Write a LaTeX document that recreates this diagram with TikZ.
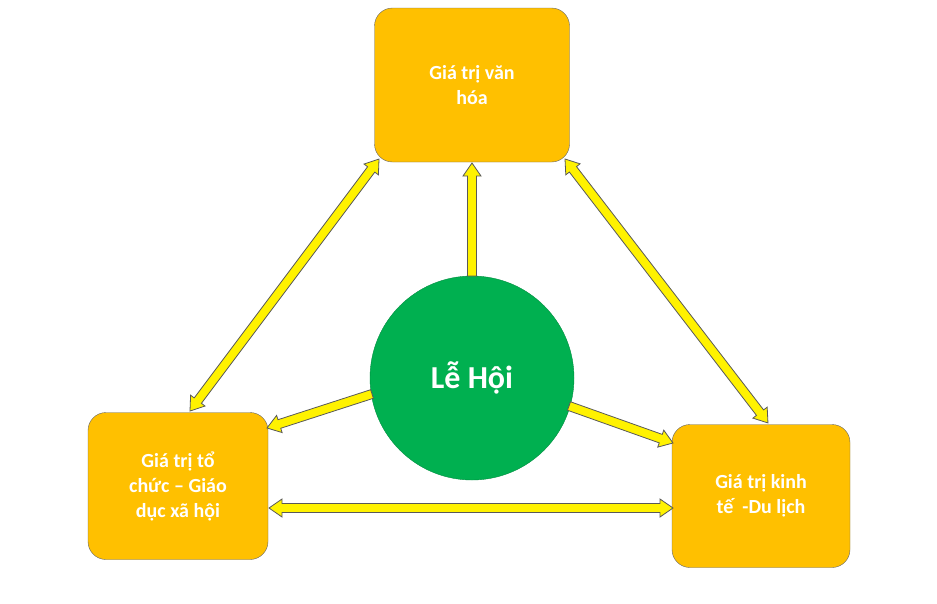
\documentclass[tikz,border=0pt]{standalone}
\usepackage{fontspec}
\setmainfont{Carlito}
\makeatletter
\newdimen\bax \newdimen\bay \newdimen\bbx \newdimen\bby
\newcommand\barrow[3]{%
\pgfextractx{\bax}{\pgfpointanchor{#1}{center}}\pgfextracty{\bay}{\pgfpointanchor{#1}{center}}%
\pgfextractx{\bbx}{\pgfpointanchor{#2}{center}}\pgfextracty{\bby}{\pgfpointanchor{#2}{center}}%
\pgfmathsetmacro\bdx{\bbx-\bax}\pgfmathsetmacro\bdy{\bby-\bay}%
\pgfmathsetmacro\bL{veclen(\bdx,\bdy)}\pgfmathsetmacro\bA{atan2(\bdy,\bdx)}%
\pgfmathsetmacro\bM{\bL-13}%
\begin{scope}[shift={(#1)},rotate=\bA]
\ifnum#3=1
\draw[barrowsty] (0pt,0pt) -- (13pt,9pt) -- (13pt,4.5pt) -- (\bM pt,4.5pt) -- (\bM pt,9pt) -- (\bL pt,0pt) -- (\bM pt,-9pt) -- (\bM pt,-4.5pt) -- (13pt,-4.5pt) -- (13pt,-9pt) -- cycle;
\else
\draw[barrowsty] (0pt,-4.5pt) -- (\bM pt,-4.5pt) -- (\bM pt,-9pt) -- (\bL pt,0pt) -- (\bM pt,9pt) -- (\bM pt,4.5pt) -- (0pt,4.5pt) -- cycle;
\fi
\end{scope}}
\makeatother
\definecolor{boxor}{HTML}{FFC000}
\definecolor{grn}{HTML}{00B050}
\tikzset{
 box/.style={draw=gray!80!black, fill=boxor, rounded corners=18pt, font=\bfseries\fontsize{20}{25}\selectfont, text=white, align=center, inner sep=0pt},
 barrowsty/.style={draw=gray!70!black, fill=yellow, line width=0.8pt, line join=miter},
}
\begin{document}
\begin{tikzpicture}[x=1pt,y=-1pt]
\useasboundingbox (0,0) rectangle (937,603);
\node[box, minimum width=195pt, minimum height=154pt] (top) at (472,85) {Giá trị văn\\hóa};
\node[box, minimum width=180pt, minimum height=147pt] (left) at (178,486) {Giá trị tổ\\chức – Giáo\\dục xã hội};
\node[box, minimum width=178pt, minimum height=143pt] (right) at (761,496) {Giá trị kinh\\tế \ -Du lịch};
\node[circle, fill=grn, draw=grn!80!black, minimum size=204pt, text=white, font=\bfseries\fontsize{32}{38}\selectfont] (c) at (472,378) {Lễ Hội};
\coordinate (c1) at (472,276); \coordinate (t1) at (472,163);
\coordinate (c2) at (372,394); \coordinate (l2) at (267,428);
\coordinate (c3) at (569,406); \coordinate (r3) at (673,443);
\coordinate (t4) at (379,159); \coordinate (l4) at (190,411);
\coordinate (t5) at (565,159); \coordinate (r5) at (768,423);
\coordinate (l6) at (269,508); \coordinate (r6) at (673,508);
\barrow{c1}{t1}{0}
\barrow{c2}{l2}{0}
\barrow{c3}{r3}{0}
\barrow{t4}{l4}{1}
\barrow{t5}{r5}{1}
\barrow{l6}{r6}{1}
\end{tikzpicture}
\end{document}
